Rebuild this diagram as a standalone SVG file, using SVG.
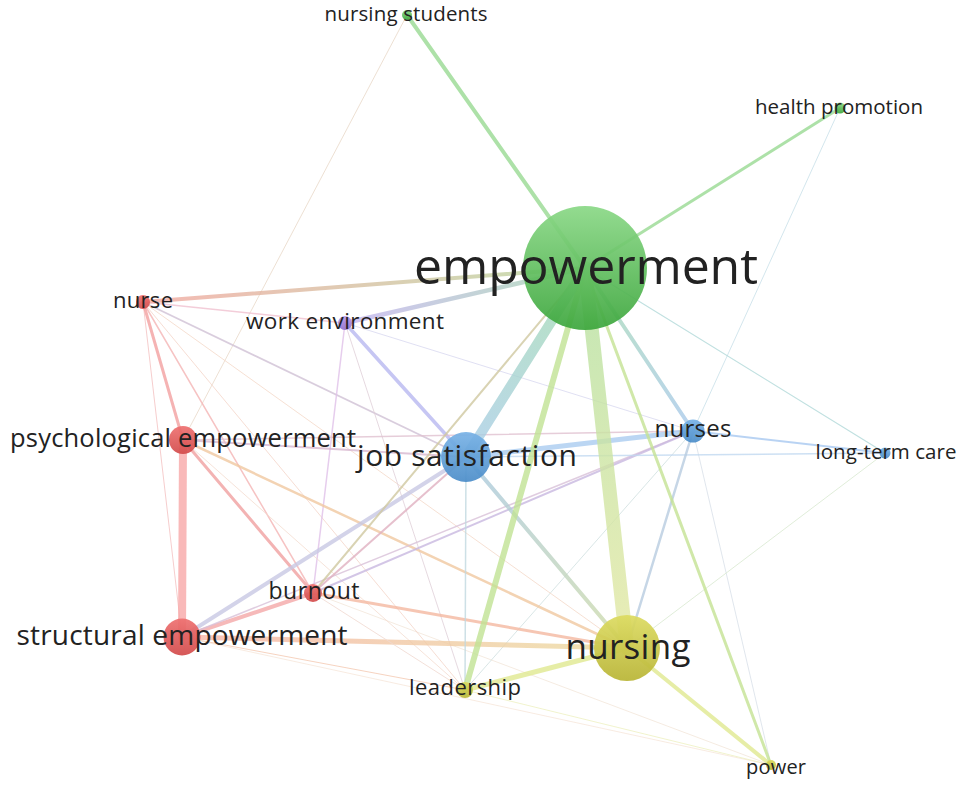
<svg xmlns="http://www.w3.org/2000/svg" width="959" height="785" viewBox="0 0 959 785">
<style>
text{font-family:"Open Sans","Noto Sans","Liberation Sans",sans-serif;fill:#222;text-anchor:middle}
#edges line{stroke-linecap:round;stroke-opacity:.8}
.node circle{fill-opacity:.92}
</style>
<defs>
<linearGradient id="gG" x1="0" y1="0" x2="0" y2="1"><stop offset="0" stop-color="#8ad886"/><stop offset="1" stop-color="#3ca63c"/></linearGradient>
<linearGradient id="gR" x1="0" y1="0" x2="0" y2="1"><stop offset="0" stop-color="#ee7070"/><stop offset="1" stop-color="#d24a4a"/></linearGradient>
<linearGradient id="gB" x1="0" y1="0" x2="0" y2="1"><stop offset="0" stop-color="#78b2e6"/><stop offset="1" stop-color="#4a8cc8"/></linearGradient>
<linearGradient id="gY" x1="0" y1="0" x2="0" y2="1"><stop offset="0" stop-color="#dcdb60"/><stop offset="1" stop-color="#b8b434"/></linearGradient>
<linearGradient id="gP" x1="0" y1="0" x2="0" y2="1"><stop offset="0" stop-color="#bc9cea"/><stop offset="1" stop-color="#9070cc"/></linearGradient>
<linearGradient id="eNU" gradientUnits="userSpaceOnUse" x1="585" y1="268" x2="143" y2="302"><stop offset="0" stop-color="#b8d8a0"/><stop offset="1" stop-color="#f2a8a0"/></linearGradient>
<linearGradient id="eWE" gradientUnits="userSpaceOnUse" x1="585" y1="268" x2="345" y2="323"><stop offset="0" stop-color="#a8d8b0"/><stop offset="1" stop-color="#c4b4f0"/></linearGradient>
<linearGradient id="eJS" gradientUnits="userSpaceOnUse" x1="585" y1="268" x2="466" y2="457"><stop offset="0" stop-color="#a4dcb0"/><stop offset="1" stop-color="#a8cce8"/></linearGradient>
<linearGradient id="eNG" gradientUnits="userSpaceOnUse" x1="585" y1="268" x2="627" y2="648"><stop offset="0" stop-color="#b4e0a0"/><stop offset="1" stop-color="#e4e8a4"/></linearGradient>
<linearGradient id="eNR" gradientUnits="userSpaceOnUse" x1="585" y1="268" x2="693" y2="431"><stop offset="0" stop-color="#a8dcb0"/><stop offset="1" stop-color="#a8c8ec"/></linearGradient>
<linearGradient id="eSN" gradientUnits="userSpaceOnUse" x1="182" y1="637" x2="627" y2="648"><stop offset="0" stop-color="#f6b4a8"/><stop offset="1" stop-color="#ecdca0"/></linearGradient>
<linearGradient id="eJN" gradientUnits="userSpaceOnUse" x1="466" y1="457" x2="627" y2="648"><stop offset="0" stop-color="#a8c8e0"/><stop offset="1" stop-color="#d0dca8"/></linearGradient>
</defs>
<rect width="959" height="785" fill="#fff"/>
<g id="edges">
<line x1="182" y1="637" x2="771" y2="765" stroke="#f4e0d0" stroke-width="0.8"/>
<line x1="313" y1="593" x2="771" y2="765" stroke="#f0e0d0" stroke-width="0.8"/>
<line x1="465" y1="690" x2="771" y2="765" stroke="#eef0c0" stroke-width="1"/>
<line x1="693" y1="431" x2="771" y2="765" stroke="#d8e0e8" stroke-width="1"/>
<line x1="693" y1="431" x2="465" y2="690" stroke="#d0e0e0" stroke-width="1"/>
<line x1="885" y1="453" x2="627" y2="648" stroke="#d8e8d0" stroke-width="1"/>
<line x1="840" y1="108" x2="693" y2="431" stroke="#c8e0e8" stroke-width="1"/>
<line x1="407" y1="15" x2="183" y2="440" stroke="#e8d8c8" stroke-width="1"/>
<line x1="143" y1="302" x2="182" y2="637" stroke="#f4c0c0" stroke-width="1"/>
<line x1="143" y1="302" x2="345" y2="323" stroke="#f0c0d0" stroke-width="1.5"/>
<line x1="143" y1="302" x2="466" y2="457" stroke="#d0c0d4" stroke-width="1.8"/>
<line x1="143" y1="302" x2="313" y2="593" stroke="#f4b4b4" stroke-width="1.5"/>
<line x1="143" y1="302" x2="465" y2="690" stroke="#f4d4c8" stroke-width="1"/>
<line x1="143" y1="302" x2="627" y2="648" stroke="#f4d8c8" stroke-width="1"/>
<line x1="345" y1="323" x2="313" y2="593" stroke="#e0c0e8" stroke-width="1.5"/>
<line x1="345" y1="323" x2="465" y2="690" stroke="#e0d0d8" stroke-width="1"/>
<line x1="345" y1="323" x2="693" y2="431" stroke="#d8d8f0" stroke-width="1"/>
<line x1="345" y1="323" x2="466" y2="457" stroke="#b8b8f0" stroke-width="3.5"/>
<line x1="183" y1="440" x2="693" y2="431" stroke="#e0c0d0" stroke-width="1.5"/>
<line x1="183" y1="440" x2="466" y2="457" stroke="#d8b8d0" stroke-width="2"/>
<line x1="183" y1="440" x2="627" y2="648" stroke="#f0c8a0" stroke-width="2.5"/>
<line x1="183" y1="440" x2="465" y2="690" stroke="#f4dcd0" stroke-width="1"/>
<line x1="183" y1="440" x2="313" y2="593" stroke="#f0a0a0" stroke-width="3"/>
<line x1="143" y1="302" x2="183" y2="440" stroke="#f2a0a0" stroke-width="3"/>
<line x1="183" y1="440" x2="182" y2="637" stroke="#f8a8a8" stroke-width="8"/>
<line x1="182" y1="637" x2="313" y2="593" stroke="#f4a8a8" stroke-width="4"/>
<line x1="182" y1="637" x2="465" y2="690" stroke="#f4c8b0" stroke-width="1"/>
<line x1="182" y1="637" x2="693" y2="431" stroke="#d8c0d8" stroke-width="1.5"/>
<line x1="182" y1="637" x2="466" y2="457" stroke="#c8c8e4" stroke-width="4"/>
<line x1="182" y1="637" x2="627" y2="648" stroke="url(#eSN)" stroke-width="5"/>
<line x1="313" y1="593" x2="465" y2="690" stroke="#f0d8d0" stroke-width="1"/>
<line x1="313" y1="593" x2="466" y2="457" stroke="#e0b0c0" stroke-width="2"/>
<line x1="313" y1="593" x2="693" y2="431" stroke="#c8b8e0" stroke-width="2"/>
<line x1="313" y1="593" x2="627" y2="648" stroke="#f4b8a0" stroke-width="3"/>
<line x1="466" y1="457" x2="465" y2="690" stroke="#c0d8e0" stroke-width="1.5"/>
<line x1="466" y1="457" x2="885" y2="453" stroke="#c0d8f0" stroke-width="1.5"/>
<line x1="466" y1="457" x2="693" y2="431" stroke="#aaccf0" stroke-width="5"/>
<line x1="466" y1="457" x2="627" y2="648" stroke="url(#eJN)" stroke-width="4"/>
<line x1="693" y1="431" x2="885" y2="453" stroke="#a8c8f0" stroke-width="2"/>
<line x1="693" y1="431" x2="627" y2="648" stroke="#b8cce0" stroke-width="2.5"/>
<line x1="627" y1="648" x2="465" y2="690" stroke="#e0e890" stroke-width="5"/>
<line x1="627" y1="648" x2="771" y2="765" stroke="#e0e890" stroke-width="4"/>
<line x1="585" y1="268" x2="885" y2="453" stroke="#b0d8d8" stroke-width="1.2"/>
<line x1="585" y1="268" x2="313" y2="593" stroke="#cfc8a0" stroke-width="2"/>
<line x1="585" y1="268" x2="771" y2="765" stroke="#c4e294" stroke-width="3"/>
<line x1="585" y1="268" x2="465" y2="690" stroke="#c0e294" stroke-width="6"/>
<line x1="585" y1="268" x2="693" y2="431" stroke="url(#eNR)" stroke-width="4"/>
<line x1="585" y1="268" x2="627" y2="648" stroke="url(#eNG)" stroke-width="14"/>
<line x1="585" y1="268" x2="466" y2="457" stroke="url(#eJS)" stroke-width="10"/>
<line x1="585" y1="268" x2="345" y2="323" stroke="url(#eWE)" stroke-width="4.5"/>
<line x1="585" y1="268" x2="143" y2="302" stroke="url(#eNU)" stroke-width="4"/>
<line x1="585" y1="268" x2="407" y2="15" stroke="#98da92" stroke-width="4"/>
<line x1="585" y1="268" x2="840" y2="108" stroke="#98da92" stroke-width="3"/>
</g>
<g id="n-empowerment" class="node"><circle cx="585" cy="268" r="62" fill="url(#gG)"/></g>
<g id="n-nursing-students" class="node"><circle cx="407" cy="15" r="5" fill="url(#gG)"/></g>
<g id="n-health-promotion" class="node"><circle cx="840" cy="108" r="5.5" fill="url(#gG)"/></g>
<g id="n-nurse" class="node"><circle cx="143" cy="302" r="7" fill="url(#gR)"/></g>
<g id="n-work-environment" class="node"><circle cx="345" cy="323" r="7" fill="url(#gP)"/></g>
<g id="n-psychological-empowerment" class="node"><circle cx="183" cy="440" r="14" fill="url(#gR)"/></g>
<g id="n-job-satisfaction" class="node"><circle cx="466" cy="457" r="25" fill="url(#gB)"/></g>
<g id="n-nurses" class="node"><circle cx="693" cy="431" r="11.5" fill="url(#gB)"/></g>
<g id="n-long-term-care" class="node"><circle cx="885" cy="453" r="5.5" fill="url(#gB)"/></g>
<g id="n-burnout" class="node"><circle cx="313" cy="593" r="9" fill="url(#gR)"/></g>
<g id="n-structural-empowerment" class="node"><circle cx="182" cy="637" r="18.5" fill="url(#gR)"/></g>
<g id="n-nursing" class="node"><circle cx="627" cy="648" r="33" fill="url(#gY)"/></g>
<g id="n-leadership" class="node"><circle cx="465" cy="690" r="8" fill="url(#gY)"/></g>
<g id="n-power" class="node"><circle cx="771" cy="765" r="5" fill="url(#gY)"/></g>
<g id="labels">
<text x="586" y="284" font-size="50" textLength="344">empowerment</text>
<text x="406" y="21" font-size="20.5" textLength="163">nursing students</text>
<text x="839" y="114" font-size="20.5" textLength="168">health promotion</text>
<text x="143" y="308" font-size="22" textLength="60">nurse</text>
<text x="345" y="329" font-size="22.5" textLength="198">work environment</text>
<text x="183" y="447" font-size="25.5" textLength="346">psychological empowerment</text>
<text x="467" y="466" font-size="30" textLength="220">job satisfaction</text>
<text x="693" y="437" font-size="24" textLength="77">nurses</text>
<text x="886" y="459" font-size="20.5" textLength="141">long-term care</text>
<text x="314" y="599" font-size="23" textLength="91">burnout</text>
<text x="182" y="645" font-size="28" textLength="331">structural empowerment</text>
<text x="628" y="659" font-size="35" textLength="125">nursing</text>
<text x="465" y="695" font-size="22" textLength="112">leadership</text>
<text x="776" y="774" font-size="20" textLength="60">power</text>
</g>
</svg>
